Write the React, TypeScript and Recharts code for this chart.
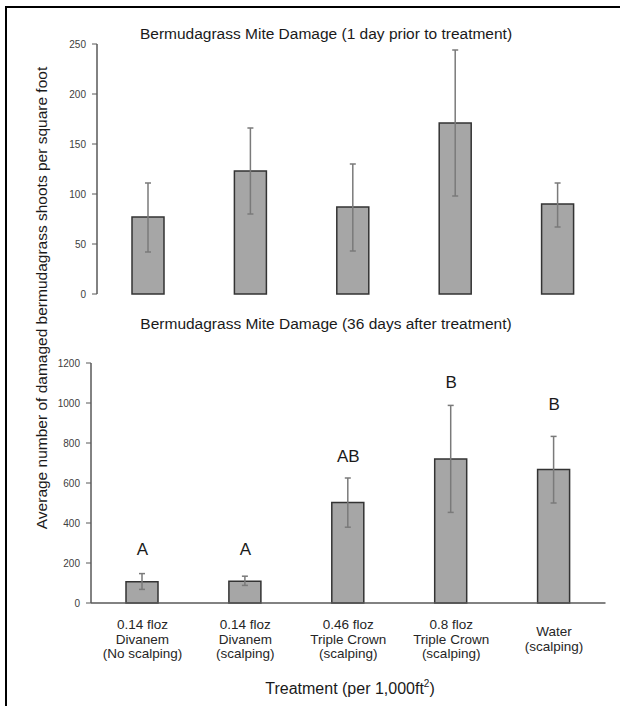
import { Bar, ComposedChart, ErrorBar, LabelList, Line, XAxis, YAxis } from "recharts";

const treatments = [
  ["0.14 floz", "Divanem", "(No scalping)"],
  ["0.14 floz", "Divanem", "(scalping)"],
  ["0.46 floz", "Triple Crown", "(scalping)"],
  ["0.8 floz", "Triple Crown", "(scalping)"],
  ["Water", "(scalping)"],
];

// 1 day prior to treatment
const priorMean = [77, 123, 87, 171, 90];
const priorLow = [42, 80, 43, 98, 67];
const priorHigh = [111, 166, 130, 244, 111];

// 36 days after treatment
const afterMean = [106, 109, 503, 720, 667];
const afterLow = [68, 88, 379, 453, 500];
const afterHigh = [147, 134, 625, 988, 833];
const groupLetters = ["A", "A", "AB", "B", "B"];
const letterPos = [272, 272, 733, 1105, 995];

const priorTicks = [0, 50, 100, 150, 200, 250];
const afterTicks = [0, 200, 400, 600, 800, 1000, 1200];

const font = "'Liberation Sans', Arial, sans-serif";

const priorData = treatments.map((t, i) => ({
  name: t.join(" "),
  value: priorMean[i],
  err: [priorMean[i] - priorLow[i], priorHigh[i] - priorMean[i]],
}));

const afterData = treatments.map((t, i) => ({
  name: t.join(" "),
  value: afterMean[i],
  err: [afterMean[i] - afterLow[i], afterHigh[i] - afterMean[i]],
  letter: groupLetters[i],
  letterY: letterPos[i],
}));

const TreatmentTick = (props: any) => {
  const { x, y, payload, index } = props;
  const lines = treatments[index] || [payload.value];
  const lh = 14.5;
  const start = 29 - ((lines.length - 1) * lh) / 2;
  return (
    <text x={x} y={y} textAnchor="middle" fontSize={13.5} fill="#262626" fontFamily={font}>
      {lines.map((l: string, i: number) => (
        <tspan key={i} x={x} y={y + start + i * lh} dominantBaseline="middle">
          {l}
        </tspan>
      ))}
    </text>
  );
};

const axisColor = "#595959";
const tickStyle = { fontSize: 10, fill: "#404040", fontFamily: font };

const App = () => {
  return (
    <div style={{ fontFamily: font }}>
      <div
        style={{
          position: "absolute",
          left: 5,
          top: 6,
          width: 620,
          height: 706,
          borderTop: "2px solid #000",
          borderLeft: "2px solid #000",
          boxSizing: "border-box",
        }}
      />
      <div style={{ position: "absolute", left: 0, top: 0 }}>
        <ComposedChart width={620} height={300} data={priorData} margin={{ top: 44, right: 11, left: 0, bottom: 6 }}>
          <XAxis dataKey="name" tick={false} tickLine={false} height={0} axisLine={{ stroke: axisColor, strokeWidth: 1.5 }} />
          <YAxis
            width={97}
            domain={[0, 250]}
            ticks={priorTicks}
            tick={tickStyle}
            tickSize={5}
            tickMargin={6}
            axisLine={{ stroke: axisColor, strokeWidth: 1.5 }}
            tickLine={{ stroke: axisColor }}
          />
          <Bar dataKey="value" fill="#a6a6a6" stroke="#333333" strokeWidth={1.5} barSize={32} isAnimationActive={false}>
            <ErrorBar dataKey="err" width={3} stroke="#7a7a7a" strokeWidth={1.5} />
          </Bar>
        </ComposedChart>
      </div>
      <div style={{ position: "absolute", left: 0, top: 310 }}>
        <ComposedChart width={620} height={396} data={afterData} margin={{ top: 53, right: 14.5, left: 0, bottom: 33 }}>
          <XAxis
            dataKey="name"
            height={70}
            tick={<TreatmentTick />}
            tickLine={false}
            interval={0}
            axisLine={{ stroke: axisColor, strokeWidth: 1.5 }}
          />
          <YAxis
            width={91}
            domain={[0, 1200]}
            ticks={afterTicks}
            tick={tickStyle}
            tickSize={5}
            tickMargin={6}
            axisLine={{ stroke: axisColor, strokeWidth: 1.5 }}
            tickLine={{ stroke: axisColor }}
          />
          <Bar dataKey="value" fill="#a6a6a6" stroke="#333333" strokeWidth={1.5} barSize={32} isAnimationActive={false}>
            <ErrorBar dataKey="err" width={3} stroke="#7a7a7a" strokeWidth={1.5} />
          </Bar>
          <Line dataKey="letterY" stroke="none" dot={false} activeDot={false} isAnimationActive={false}>
            <LabelList dataKey="letter" position="center" fontSize={17} fill="#1a1a1a" fontFamily={font} />
          </Line>
        </ComposedChart>
      </div>
      <div style={{ position: "absolute", left: 326, top: 34, transform: "translate(-50%, -50%)", whiteSpace: "nowrap", fontSize: 15.5, color: "#1a1a1a" }}>
        Bermudagrass Mite Damage (1 day prior to treatment)
      </div>
      <div style={{ position: "absolute", left: 326, top: 324, transform: "translate(-50%, -50%)", whiteSpace: "nowrap", fontSize: 15.5, color: "#1a1a1a" }}>
        Bermudagrass Mite Damage (36 days after treatment)
      </div>
      <div
        style={{
          position: "absolute",
          left: 42,
          top: 298,
          transform: "translate(-50%, -50%) rotate(-90deg)",
          whiteSpace: "nowrap",
          fontSize: 15.5,
          color: "#1a1a1a",
        }}
      >
        Average number of damaged bermudagrass shoots per square foot
      </div>
      <div style={{ position: "absolute", left: 350, top: 688, transform: "translate(-50%, -50%)", whiteSpace: "nowrap", fontSize: 16, color: "#1a1a1a" }}>
        Treatment (per 1,000ft<sup style={{ fontSize: 10 }}>2</sup>)
      </div>
    </div>
  );
};

export default App;
